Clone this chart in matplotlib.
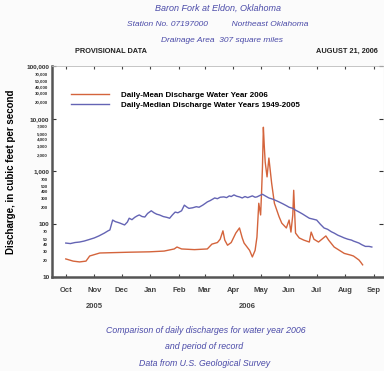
import matplotlib
matplotlib.use("Agg")
import matplotlib.pyplot as plt
from matplotlib.ticker import FixedLocator, NullFormatter

plt.rcParams['font.family'] = ['Liberation Sans', 'DejaVu Sans']

# Day numbers counted from Oct 1, 2005
mean_days = [0, 8, 15, 22, 26, 37, 53, 69, 91, 107, 118, 121, 126, 140, 154, 159, 165, 168,
             171, 173, 176, 180, 185, 189, 192, 194, 200, 203, 206, 208, 210, 212, 213, 214,
             215, 216, 217, 219, 221, 224, 227, 232, 235, 240, 243, 245, 247, 248, 250, 254,
             259, 265, 267, 270, 275, 283, 286, 292, 303, 310, 313, 319, 321, 323]
mean_vals = [22, 20, 19.3, 20, 25, 28.5, 29, 29.5, 30, 31, 34, 37, 34, 33, 34, 42, 45, 52,
             75, 50, 40, 45, 68, 85, 55, 44, 32, 24, 32, 57, 250, 150, 390, 1200,
             6900, 3000, 1500, 790, 1800, 600, 250, 140, 105, 85, 120, 71, 150, 440, 68, 55,
             50, 46, 71, 52, 46, 60, 50, 37, 28, 26, 25, 21, 19, 17]

median_days = [0, 5, 10, 15, 20, 25, 31, 36, 42, 46,
               48, 51, 54, 57, 59, 62, 64, 67, 69, 72,
               75, 78, 80, 83, 86, 89, 93, 96, 99, 102,
               106, 110, 113, 116, 119, 122, 126, 129, 132, 134,
               138, 142, 145, 149, 152, 154, 157, 160, 162, 165,
               168, 172, 175, 178, 180, 183, 186, 189, 192, 195,
               198, 200, 203, 206, 208, 211, 214, 217, 221, 225,
               229, 232, 236, 240, 243, 247, 250, 254, 258, 262,
               265, 269, 273, 277, 281, 285, 289, 292, 296, 300,
               303, 307, 311, 313, 316, 319, 322, 326, 330, 333]
median_vals = [44, 43, 45, 46, 48, 51, 55, 60, 68, 75,
               78, 120, 112, 108, 105, 100, 97, 110, 130, 122,
               135, 145, 150, 140, 137, 160, 180, 165, 155, 150,
               140, 135, 130, 150, 170, 165, 180, 230, 210, 200,
               205, 215, 210, 230, 250, 265, 280, 300, 315, 305,
               325, 330, 320, 345, 335, 360, 340, 330, 315, 335,
               320, 330, 345, 325, 330, 350, 370, 345, 315, 300,
               280, 265, 245, 225, 210, 200, 185, 170, 155, 140,
               130, 125, 120, 100, 85, 80, 72, 68, 62, 58,
               55, 52, 50, 48, 46, 44, 41, 38, 38, 37]

month_labels = ['Oct', 'Nov', 'Dec', 'Jan', 'Feb', 'Mar', 'Apr', 'May', 'Jun', 'Jul', 'Aug', 'Sep']
month_starts = [0, 31, 61, 92, 123, 151, 182, 212, 243, 273, 304, 335]
year_labels = ['2005', '2006']

major_y = [10, 100, 1000, 10000, 100000]
major_y_labels = ['10', '100', '1,000', '10,000', '100,000']
minor_y = []
minor_y_labels = []
for dec in [10, 100, 1000, 10000]:
    for m in [2, 3, 4, 5, 7]:
        minor_y.append(m * dec)
        minor_y_labels.append(f"{m*dec:,}")

orange = '#d4643c'
blue = '#6464b4'
title_col = '#4a4aa8'

fig = plt.figure(figsize=(3.84, 3.71), dpi=100)
fig.patch.set_facecolor('#fbfbfb')
ax = fig.add_axes([0.1354, 0.2534, 0.8616, 0.5687])
ax.set_facecolor('white')

ax.plot(mean_days, mean_vals, color=orange, lw=1.0,
        label='Daily-Mean Discharge Water Year 2006')
ax.plot(median_days, median_vals, color=blue, lw=1.0,
        label='Daily-Median Discharge Water Years 1949-2005')

ax.set_yscale('log')
ax.set_ylim(10, 100000)
ax.set_xlim(-15, 345)

ax.yaxis.set_major_locator(FixedLocator(major_y))
ax.set_yticklabels(major_y_labels, fontsize=4.6, fontweight='bold')
ax.yaxis.set_minor_locator(FixedLocator(minor_y))
ax.yaxis.set_minor_formatter(NullFormatter())
for v, lab in zip(minor_y, minor_y_labels):
    ax.text(-0.012, v, lab, transform=ax.get_yaxis_transform(), ha='right', va='center',
            fontsize=3.2, fontweight='bold', color='#333333')
ax.tick_params(axis='y', which='major', direction='in', length=3, width=0.8,
               left=True, right=True, pad=2, colors='#333333')
ax.tick_params(axis='y', which='minor', length=0)

ax.set_xticks(month_starts)
ax.set_xticklabels(month_labels, fontsize=5.5, fontweight='bold', color='#444444')
ax.tick_params(axis='x', direction='in', length=2.5, width=0.8, top=True, pad=7,
               colors='#444444')

for s in ['left', 'bottom']:
    ax.spines[s].set_linewidth(1.8)
    ax.spines[s].set_color('#555555')
ax.spines['top'].set_linewidth(0.6)
ax.spines['top'].set_color('#bbbbbb')
ax.spines['right'].set_visible(False)

ax.set_ylabel('Discharge, in cubic feet per second', fontsize=7, fontweight='bold')
ax.yaxis.set_label_coords(-0.11, 0.5)

ax.legend(loc='upper left', bbox_to_anchor=(0.035, 0.915), frameon=False,
          prop={'size': 5.8, 'weight': 'bold'}, handlelength=4.7,
          handletextpad=1.5, labelspacing=0.3)

ax.text(31, -0.142, year_labels[0], transform=ax.get_xaxis_transform(), ha='center',
        va='center', fontsize=5.5, fontweight='bold', color='#444444')
ax.text(197, -0.142, year_labels[1], transform=ax.get_xaxis_transform(), ha='center',
        va='center', fontsize=5.5, fontweight='bold', color='#444444')

fig.text(0.567, 0.978, 'Baron Fork at Eldon, Oklahoma', ha='center', va='center',
         fontsize=6.5, style='italic', color=title_col)
fig.text(0.567, 0.935, 'Station No. 07197000          Northeast Oklahoma', ha='center',
         va='center', fontsize=6, style='italic', color=title_col)
fig.text(0.578, 0.892, 'Drainage Area  307 square miles', ha='center', va='center',
         fontsize=6, style='italic', color=title_col)
fig.text(0.195, 0.862, 'PROVISIONAL DATA', ha='left', va='center', fontsize=5.3,
         fontweight='bold', color='#222222')
fig.text(0.985, 0.862, 'AUGUST 21, 2006', ha='right', va='center', fontsize=5.3,
         fontweight='bold', color='#222222')

fig.text(0.536, 0.110, 'Comparison of daily discharges for water year 2006', ha='center',
         va='center', fontsize=6.3, style='italic', color=title_col)
fig.text(0.532, 0.067, 'and period of record', ha='center', va='center', fontsize=6.3,
         style='italic', color=title_col)
fig.text(0.534, 0.021, 'Data from U.S. Geological Survey', ha='center', va='center',
         fontsize=6.3, style='italic', color=title_col)

fig.savefig('out.png', dpi=100)
